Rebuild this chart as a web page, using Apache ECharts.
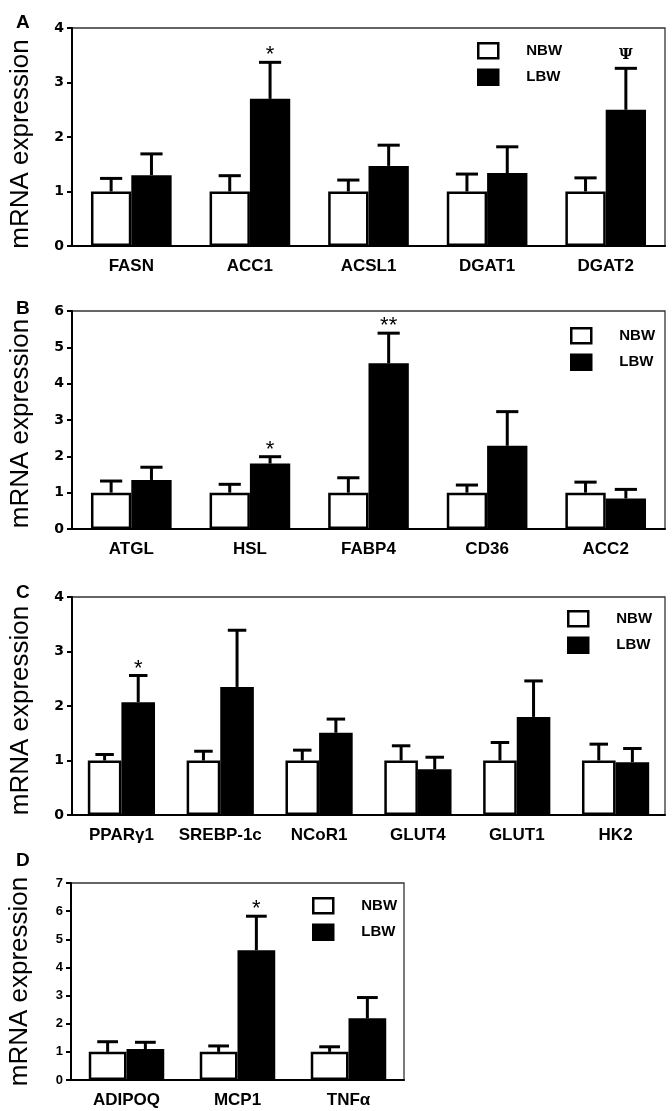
<!DOCTYPE html>
<html><head><meta charset="utf-8">
<script src="https://cdn.jsdelivr.net/npm/echarts@6/dist/echarts.min.js"></script>
<style>html,body{margin:0;padding:0;background:#fff}#c{width:672px;height:1111px}</style>
</head><body><div id="c"></div>
<script>
// ---- data ----
const catsA = ['FASN','ACC1','ACSL1','DGAT1','DGAT2'];
const nbwA = [1,1,1,1,1];
const nbwSemA = [0.24,0.29,0.21,0.32,0.25];
const lbwA = [1.30,2.70,1.47,1.34,2.50];
const lbwSemA = [0.39,0.67,0.38,0.48,0.76];
const sigA = ['','*','','','Ψ'];
const ticksA = [0,1,2,3,4];

const catsB = ['ATGL','HSL','FABP4','CD36','ACC2'];
const nbwB = [1,1,1,1,1];
const nbwSemB = [0.32,0.23,0.41,0.21,0.29];
const lbwB = [1.35,1.80,4.56,2.29,0.84];
const lbwSemB = [0.35,0.19,0.83,0.94,0.25];
const sigB = ['','*','**','',''];
const ticksB = [0,1,2,3,4,5,6];

const catsC = ['PPARγ1','SREBP-1c','NCoR1','GLUT4','GLUT1','HK2'];
const nbwC = [1,1,1,1,1,1];
const nbwSemC = [0.11,0.17,0.19,0.27,0.33,0.30];
const lbwC = [2.07,2.35,1.51,0.84,1.80,0.97];
const lbwSemC = [0.49,1.04,0.25,0.22,0.66,0.25];
const sigC = ['*','','','','',''];
const ticksC = [0,1,2,3,4];

const catsD = ['ADIPOQ','MCP1','TNFα'];
const nbwD = [1,1,1];
const nbwSemD = [0.36,0.21,0.18];
const lbwD = [1.10,4.61,2.19];
const lbwSemD = [0.24,1.21,0.74];
const sigD = ['','*',''];
const ticksD = [0,1,2,3,4,5,6,7];

const panelLetters = ['A','B','C','D'];
const seriesNames = ['NBW','LBW'];

// ---- layout ----
const FONT = 'Liberation Sans';
const GAP = 0.32;
const panels = [
  {cats:catsA, nbw:nbwA, nbwSem:nbwSemA, lbw:lbwA, lbwSem:lbwSemA, sig:sigA, ticks:ticksA, nameShift:14,
   grid:{left:70, top:28, width:595, height:218}, legend:{left:472, top:37}, tickFont:{size:14, fam:'DejaVu Sans', w:900}},
  {cats:catsB, nbw:nbwB, nbwSem:nbwSemB, lbw:lbwB, lbwSem:lbwSemB, sig:sigB, ticks:ticksB, nameShift:7,
   grid:{left:72, top:311, width:593, height:218}, legend:{left:565, top:322}, tickFont:{size:14, fam:'DejaVu Sans', w:900}},
  {cats:catsC, nbw:nbwC, nbwSem:nbwSemC, lbw:lbwC, lbwSem:lbwSemC, sig:sigC, ticks:ticksC, nameShift:9,
   grid:{left:71, top:597, width:594, height:218}, legend:{left:562, top:605}, tickFont:{size:14, fam:'DejaVu Sans', w:900}},
  {cats:catsD, nbw:nbwD, nbwSem:nbwSemD, lbw:lbwD, lbwSem:lbwSemD, sig:sigD, ticks:ticksD, nameShift:0,
   grid:{left:71, top:883, width:333, height:197}, legend:{left:307, top:892}, tickFont:{size:13, fam:FONT, w:'bold'}},
];
const letterTops = [8, 294, 578, 846];

const option = {
  animation:false,
  backgroundColor:'#fff',
  title: [], grid: [], xAxis: [], yAxis: [], series: [], legend: []
};

panels.forEach((p, k) => {
  option.title.push({text:panelLetters[k], left:11, top:letterTops[k],
    textStyle:{fontFamily:FONT, fontWeight:'bold', fontSize:19, color:'#000'}});
  option.grid.push(Object.assign({show:true, borderColor:'#333', borderWidth:1.3, backgroundColor:'transparent'}, p.grid));
  option.xAxis.push({type:'category', gridIndex:k, data:p.cats,
    axisLine:{lineStyle:{color:'#000', width:2}},
    axisTick:{alignWithLabel:true, length:5, lineStyle:{color:'#000', width:2}},
    axisLabel:{interval:0, fontFamily:FONT, fontWeight:'bold', fontSize:17, color:'#000', margin:12}});
  const mx = p.ticks[p.ticks.length-1];
  option.yAxis.push({type:'value', gridIndex:k, min:0, max:mx, interval:1,
    name:'mRNA expression', nameLocation:'middle', nameGap:38, nameRotate:90,
    nameTextStyle:{fontFamily:FONT, fontSize:26, color:'#000', padding:[0, p.nameShift, 0, 0]},
    splitLine:{show:false},
    axisLine:{show:true, lineStyle:{color:'#000', width:2}},
    axisTick:{show:true, length:5, lineStyle:{color:'#000', width:2}},
    axisLabel:{fontFamily:p.tickFont.fam, fontWeight:p.tickFont.w, fontSize:p.tickFont.size, color:'#000', margin:8,
      formatter: v => p.ticks.indexOf(v) >= 0 ? String(v) : ''}});
  const styles = [
    {color:'#fff', borderColor:'#000', borderWidth:2.5},
    {color:'#000', borderColor:'#000', borderWidth:2.5}
  ];
  const vals = [p.nbw, p.lbw], sems = [p.nbwSem, p.lbwSem];
  [0,1].forEach(s => {
    option.series.push({type:'bar', name:seriesNames[s], xAxisIndex:k, yAxisIndex:k,
      data:vals[s], itemStyle:styles[s], barGap:'0%', barCategoryGap:(GAP*100)+'%', z:2});
  });
  [0,1].forEach(s => {
    const side = s === 0 ? -1 : 1;
    option.series.push({type:'custom', name:'err'+k+'_'+s, xAxisIndex:k, yAxisIndex:k, z:5,
      data: vals[s].map((v,i) => [i, v, sems[s][i]]),
      renderItem:(params, api) => {
        const i = api.value(0), m = api.value(1), e = api.value(2);
        const base = api.coord([i, m]), top = api.coord([i, m+e]);
        const catW = api.size([1,0])[0];
        const bw = catW*(1-GAP)/2;
        const cx = base[0] + side*bw/2;
        const capW = bw*0.55;
        const children = [
          {type:'line', shape:{x1:cx, y1:base[1], x2:cx, y2:top[1]}, style:{stroke:'#000', lineWidth:3}},
          {type:'line', shape:{x1:cx-capW/2, y1:top[1], x2:cx+capW/2, y2:top[1]}, style:{stroke:'#000', lineWidth:3}}
        ];
        if (s === 1) {
          const t = p.sig[params.dataIndex];
          if (t) {
            const psi = t === 'Ψ';
            children.push({type:'text', x:cx, y:top[1] + (psi ? -6 : 4), style:{text:t, align:'center', verticalAlign:'bottom',
              font: psi ? 'bold 15px "DejaVu Serif"' : '22px "Liberation Sans"', fill:'#000'}});
          }
        }
        return {type:'group', children};
      }});
  });
  option.legend.push({orient:'vertical', left:p.legend.left, top:p.legend.top, itemWidth:20, itemHeight:15, itemGap:9,
    selectedMode:false,
    textStyle:{fontFamily:FONT, fontWeight:'bold', fontSize:15, color:'#000', padding:[0,0,0,23]},
    data:[
      {name:'NBW', icon:'rect', itemStyle:{color:'#fff', borderColor:'#000', borderWidth:2.5}},
      {name:'LBW', icon:'rect', itemStyle:{color:'#000', borderColor:'#000', borderWidth:2.5}}
    ]});
});

const chart = echarts.init(document.getElementById('c'), null, {renderer:'canvas'});
chart.setOption(option);
</script></body></html>
